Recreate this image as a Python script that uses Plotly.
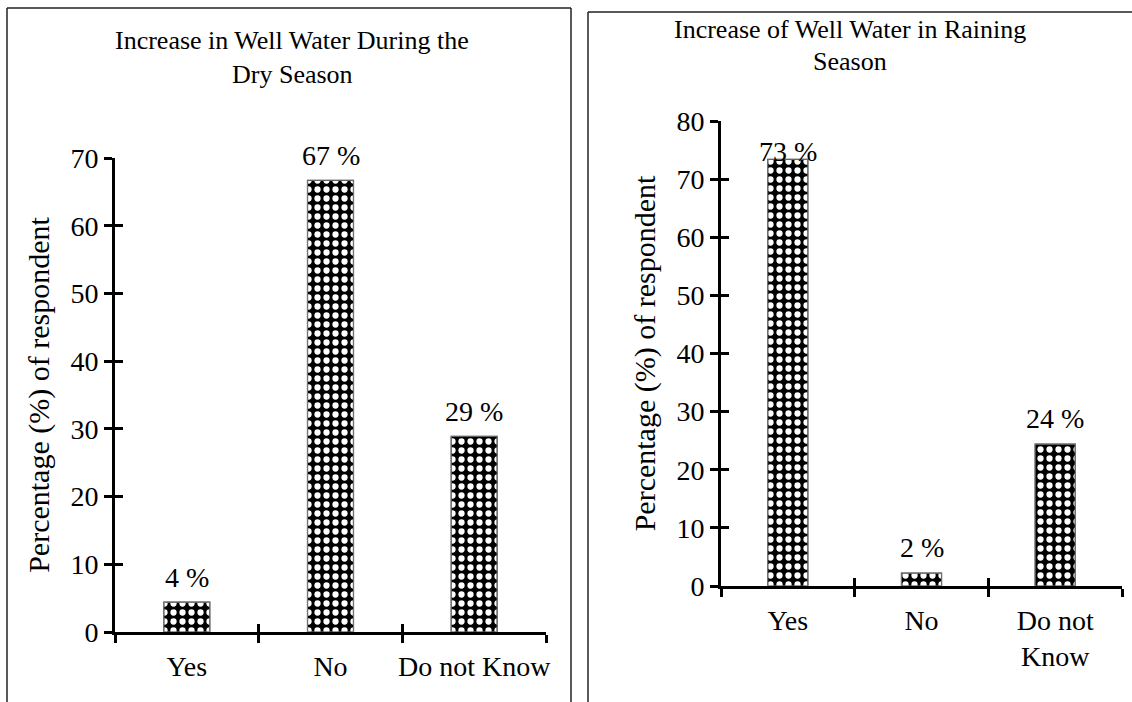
import plotly.graph_objects as go

# ---------------- data ----------------
cats_dry = ["Yes", "No", "Do not Know"]
vals_dry = [4.4, 66.7, 28.9]
labels_dry = ["4 %", "67 %", "29 %"]

cats_rain = ["Yes", "No", "Do not<br>Know"]
vals_rain = [73.4, 2.2, 24.4]
labels_rain = ["73 %", "2 %", "24 %"]

title_dry = ["Increase in Well Water During the", "Dry Season"]
title_rain = ["Increase of Well Water in Raining", "Season"]
ytitle = "Percentage (%) of respondent"

# ---------------- styling ----------------
W, H = 1132, 702
FONT = "Liberation Serif"
FS = 28

def px(x):
    return x / W

def py(y):
    return 1 - y / H

pattern = dict(shape=".", bgcolor="black", fgcolor="white", size=9,
               solidity=0.38, fillmode="replace")

fig = go.Figure()

def add_panel(cats, vals, labels, xa, ya, xo, yo, width, yshifts):
    fig.add_trace(go.Bar(
        x=cats, y=vals, width=width, xaxis=xa, yaxis=ya,
        marker=dict(color="black", pattern=pattern,
                    line=dict(color="black", width=1.2)),
        hoverinfo="skip", showlegend=False))
    # invisible duplicate on overlay axes (for crossing tick marks)
    fig.add_trace(go.Bar(
        x=cats, y=vals, width=width, xaxis=xo, yaxis=yo,
        marker=dict(color="rgba(0,0,0,0)"), hoverinfo="skip",
        showlegend=False))
    for c, v, t, s in zip(cats, vals, labels, yshifts):
        fig.add_annotation(x=c, y=v, xref=xa, yref=ya, text=t,
                           showarrow=False, yanchor="bottom", yshift=s,
                           font=dict(family=FONT, size=FS, color="black"))

add_panel(cats_dry, vals_dry, labels_dry, "x", "y", "x3", "y3", 0.32,
          [7, 7, 7])
add_panel(cats_rain, vals_rain, labels_rain, "x2", "y2", "x4", "y4", 0.30,
          [-10, 8, 8])

axfont = dict(family=FONT, size=FS, color="black")
common_x = dict(type="category", tickson="boundaries", ticks="outside",
                ticklen=8, tickwidth=3, tickcolor="black", showline=True,
                linewidth=3, linecolor="black", showgrid=False,
                zeroline=False, tickfont=axfont, tickangle=0,
                automargin=False, ticklabelstandoff=7)
common_y = dict(ticks="outside", ticklen=8, tickwidth=3, tickcolor="black",
                showline=True, linewidth=3, linecolor="black",
                showgrid=False, zeroline=False, tickfont=axfont, dtick=10,
                automargin=False)
ov_x = dict(type="category", tickson="boundaries", ticks="inside",
            ticklen=8, tickwidth=3, tickcolor="black", showline=False,
            showgrid=False, zeroline=False, showticklabels=False,
            automargin=False)
ov_y = dict(ticks="inside", ticklen=8, tickwidth=3, tickcolor="black",
            showline=False, showgrid=False, zeroline=False,
            showticklabels=False, dtick=10, automargin=False)

dom_x1 = [px(115), px(546)]
dom_y1 = [py(632), py(158)]
dom_x2 = [px(721), px(1122)]
dom_y2 = [py(586), py(121)]

ytfont = dict(family=FONT, size=30, color="black")
fig.update_layout(
    width=W, height=H, margin=dict(l=0, r=0, t=0, b=0, autoexpand=False),
    paper_bgcolor="white", plot_bgcolor="rgba(0,0,0,0)",
    font=dict(family=FONT, color="black"),
    xaxis=dict(common_x, domain=dom_x1, anchor="y",
               categoryorder="array", categoryarray=cats_dry),
    yaxis=dict(common_y, domain=dom_y1, anchor="x", range=[0, 70],
               title=dict(text=ytitle, font=ytfont, standoff=12)),
    xaxis2=dict(common_x, domain=dom_x2, anchor="y2",
                categoryorder="array", categoryarray=cats_rain),
    yaxis2=dict(common_y, domain=dom_y2, anchor="x2", range=[0, 80],
                title=dict(text=ytitle, font=ytfont, standoff=12)),
    xaxis3=dict(ov_x, overlaying="x", anchor="y3",
                categoryorder="array", categoryarray=cats_dry),
    yaxis3=dict(ov_y, overlaying="y", anchor="x3", range=[0, 70]),
    xaxis4=dict(ov_x, overlaying="x2", anchor="y4",
                categoryorder="array", categoryarray=cats_rain),
    yaxis4=dict(ov_y, overlaying="y2", anchor="x4", range=[0, 80]),
)

# titles (two lines each, tight spacing)
tfont = dict(family=FONT, size=26, color="black")
for i, line in enumerate(title_dry):
    fig.add_annotation(x=px(292), y=py(41 + 33 * i), xref="paper",
                       yref="paper", text=line, showarrow=False,
                       xanchor="center", yanchor="middle", font=tfont)
for i, line in enumerate(title_rain):
    fig.add_annotation(x=px(850), y=py(30 + 32 * i), xref="paper",
                       yref="paper", text=line, showarrow=False,
                       xanchor="center", yanchor="middle", font=tfont)

# panel frames
frame = dict(color="#222222", width=1.5)
for (x0, y0, x1, y1) in [(7, 8, 7, 702), (7, 8, 571, 8), (571, 8, 571, 702),
                         (588, 12, 588, 702), (588, 12, 1132, 12)]:
    fig.add_shape(type="line", xref="paper", yref="paper",
                  x0=px(x0), y0=py(y0), x1=px(x1), y1=py(y1), line=frame)

fig.write_html("out.html", config={"displayModeBar": False},
               post_script="document.body.style.margin='0';"
                           "document.body.style.overflow='hidden';")
